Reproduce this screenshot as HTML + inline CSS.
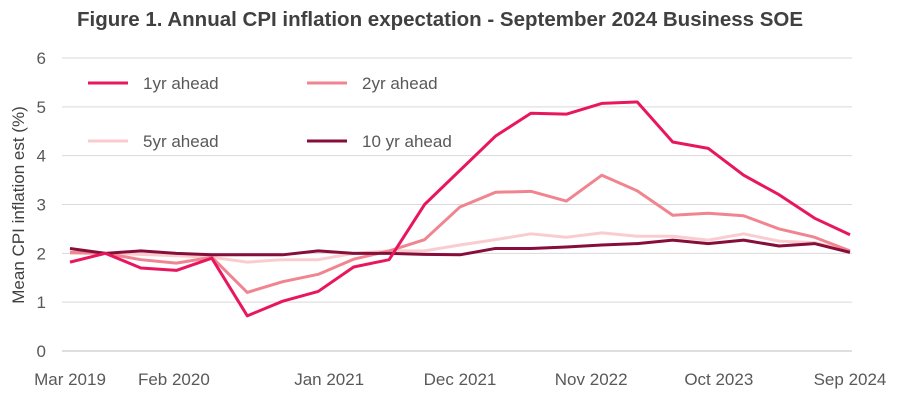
<!DOCTYPE html>
<html><head><meta charset="utf-8"><style>
body{margin:0;background:#fff;font-family:"Liberation Sans",sans-serif}
</style></head><body>
<svg id="c" width="902" height="401" xmlns="http://www.w3.org/2000/svg" font-family="Liberation Sans, sans-serif">
<text x="440" y="26" text-anchor="middle" font-size="20.5" font-weight="bold" fill="#404040">Figure 1. Annual CPI inflation expectation - September 2024 Business SOE</text>
<text transform="translate(24,205) rotate(-90)" text-anchor="middle" font-size="17" fill="#404040">Mean CPI inflation est (%)</text>
<g id="grid"></g><g id="lines"></g><g id="legend"></g>
</svg>
<script>
const categories=["Mar 2019","Jun 2019","Sep 2019","Feb 2020","Jun 2020","Sep 2020","Oct 2020","Jan 2021","Apr 2021","Jul 2021","Sep 2021","Dec 2021","Mar 2022","Jun 2022","Sep 2022","Nov 2022","Mar 2023","Jun 2023","Oct 2023","Dec 2023","Mar 2024","Jun 2024","Sep 2024"];
const yr1=[1.82,2.0,1.7,1.65,1.9,0.72,1.02,1.22,1.72,1.87,3.0,3.7,4.4,4.87,4.85,5.07,5.1,4.28,4.15,3.6,3.2,2.72,2.38];
const yr2=[2.02,2.0,1.87,1.8,1.92,1.2,1.42,1.57,1.88,2.05,2.28,2.95,3.25,3.27,3.07,3.6,3.28,2.78,2.82,2.77,2.5,2.33,2.05];
const yr5=[2.0,2.0,1.98,1.95,1.92,1.82,1.87,1.87,2.0,2.05,2.05,2.17,2.28,2.4,2.33,2.42,2.35,2.35,2.27,2.4,2.25,2.22,2.05];
const yr10=[2.1,2.0,2.05,2.0,1.97,1.97,1.97,2.05,2.0,2.0,1.98,1.97,2.1,2.1,2.13,2.17,2.2,2.27,2.2,2.27,2.15,2.2,2.02];
const yTicks=[0,1,2,3,4,5,6];
const xLabels=["Mar 2019","Feb 2020","Jan 2021","Dec 2021","Nov 2022","Oct 2023","Sep 2024"];
const xLabelPos=[0,2.93,7.31,11.0,14.7,18.3,22];
const NS="http://www.w3.org/2000/svg";
const x=i=>70+i*(780/22), y=v=>351-v*48.83;
function mk(t,a,p){const e=document.createElementNS(NS,t);for(const k in a)e.setAttribute(k,a[k]);p.appendChild(e);return e;}
const grid=document.getElementById('grid');
yTicks.forEach(v=>{
 const l=mk('line',{x1:62,x2:852,y1:y(v),y2:y(v),stroke:v===0?'#bfbfbf':'#d9d9d9','stroke-width':1},grid);
 
 
 const t=mk('text',{x:46,y:y(v)+6,'text-anchor':'end','font-size':17,fill:'#595959'},grid);t.textContent=v;
 
 
});
xLabels.forEach((s,i)=>{
 const t=mk('text',{x:x(xLabelPos[i]),y:385,'text-anchor':'middle','font-size':17,fill:'#595959'},grid);t.textContent=s;
 
 
});
const series=[["1yr ahead",yr1,"#e8175d"],["2yr ahead",yr2,"#f08590"],["5yr ahead",yr5,"#f9cdd0"],["10 yr ahead",yr10,"#870e3a"]];
const lines=document.getElementById('lines');
[2,1,3,0].forEach(k=>{const [n,d,c]=series[k];
 const p=mk('polyline',{points:d.map((v,i)=>x(i)+','+y(v)).join(' '),fill:'none',stroke:c,'stroke-width':3,'stroke-linejoin':'round'},lines);
 
 
});
const lg=document.getElementById('legend');
const lpos=[[88,83],[307,83],[88,141],[307,141]];
series.forEach(([n,d,c],k)=>{const [lx,ly]=lpos[k];
 const g=mk('g',{},lg);
 
 
 mk('line',{x1:lx,x2:lx+40,y1:ly,y2:ly,stroke:c,'stroke-width':3},g);
 const t=mk('text',{x:lx+55,y:ly+6,'font-size':17,fill:'#595959'},g);t.textContent=n;
});
</script>
</body></html>
